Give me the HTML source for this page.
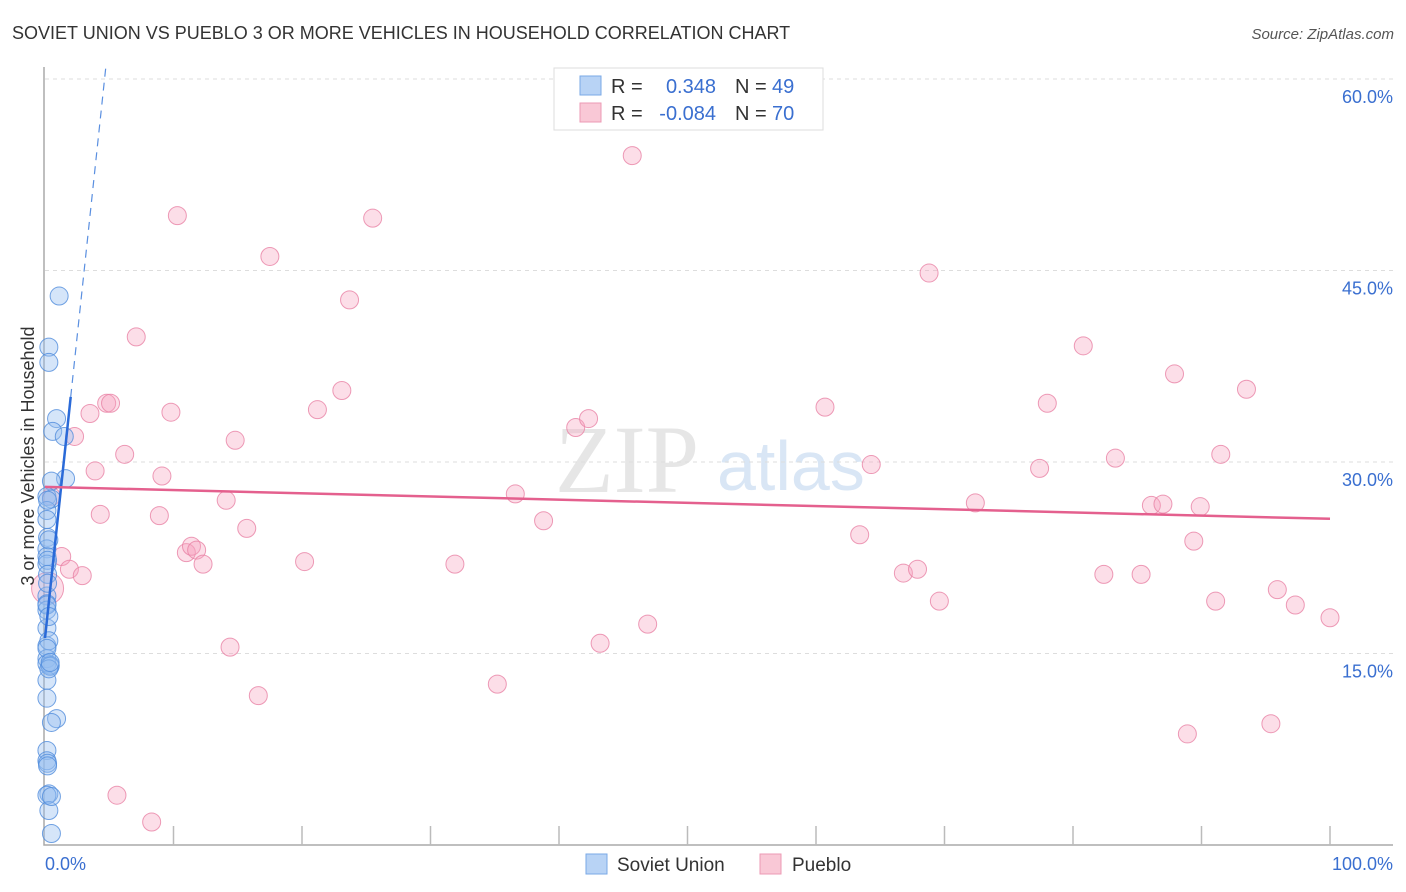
<!DOCTYPE html>
<html><head><meta charset="utf-8"><style>
body{margin:0;background:#fff;font-family:"Liberation Sans",sans-serif}
svg{display:block}
</style></head><body>
<svg id="chart" width="1406" height="892" xmlns="http://www.w3.org/2000/svg">
<text x="12" y="39" font-size="18" fill="#333">SOVIET UNION VS PUEBLO 3 OR MORE VEHICLES IN HOUSEHOLD CORRELATION CHART</text>
<text x="1394" y="39" font-size="15" fill="#555" text-anchor="end" font-style="italic">Source: ZipAtlas.com</text>
<text x="555" y="492" font-size="96" fill="#e6e6e6" font-family="Liberation Serif">ZIP</text>
<text x="717" y="490" font-size="70" fill="#d9e6f5">atlas</text>
<g id="grid"></g>
<g id="pts"></g>
<g id="lines"></g>
<text transform="translate(34,456) rotate(-90)" font-size="18" fill="#333" text-anchor="middle">3 or more Vehicles in Household</text>
<g>
<rect x="554" y="68" width="269" height="62" fill="#fff" stroke="#ddd"/>
<rect x="580" y="76" width="21" height="19" fill="#b8d3f5" stroke="#7aa8e6"/>
<rect x="580" y="103" width="21" height="19" fill="#f9c8d6" stroke="#ec9ab4"/>
<text x="611" y="93" font-size="20" fill="#333">R =</text>
<text x="716" y="93" font-size="20" fill="#3a6fd0" text-anchor="end">0.348</text>
<text x="735" y="93" font-size="20" fill="#333">N =</text>
<text x="772" y="93" font-size="20" fill="#3a6fd0">49</text>
<text x="611" y="120" font-size="20" fill="#333">R =</text>
<text x="716" y="120" font-size="20" fill="#3a6fd0" text-anchor="end">-0.084</text>
<text x="735" y="120" font-size="20" fill="#333">N =</text>
<text x="772" y="120" font-size="20" fill="#3a6fd0">70</text>
</g>
<g>
<rect x="586" y="854" width="21" height="20" fill="#b8d3f5" stroke="#7aa8e6"/>
<text x="617" y="871" font-size="19" fill="#333">Soviet Union</text>
<rect x="760" y="854" width="21" height="20" fill="#f9c8d6" stroke="#ec9ab4"/>
<text x="792" y="871" font-size="19" fill="#333">Pueblo</text>
</g>
</svg>
<script>
const yTicks=[15,30,45,60];
const yTickLabels=["15.0%","30.0%","45.0%","60.0%"];
const xTickCount=10;
const blueX=[1.1,0.3,0.3,0.9,0.6,1.5,1.6,0.5,0.15,0.5,0.15,0.2,0.15,0.15,0.15,0.15,0.15,0.15,0.15,0.15,0.15,0.15,0.4,0.15,0.9,0.5,0.15,0.15,0.2,0.3,0.15,0.3,0.5,0.2,0.4,0.3,0.15,0.2,0.3,0.15,0.2,0.3,0.15,0.2,0.5,0.3,0.2,0.15,0.4];
const blueY=[43.0,39.0,37.8,33.4,32.4,32.0,28.7,28.5,27.3,27.1,26.2,24.1,23.2,22.6,22.0,19.5,18.9,18.4,17.0,15.6,14.6,14.2,14.1,12.9,9.9,9.6,7.4,6.6,6.4,4.0,3.9,2.7,0.9,27.0,14.0,16.0,18.8,22.3,23.9,25.5,21.2,13.8,15.4,6.2,3.8,17.9,20.5,11.5,14.3];
const pinkX=[0.2,0.5,1.3,1.9,2.9,2.3,3.5,3.9,4.3,4.8,5.1,6.2,5.6,7.1,8.3,8.9,9.1,9.8,10.3,11.0,11.4,11.8,12.3,14.1,14.4,14.8,15.7,16.6,17.5,20.2,21.2,23.1,23.7,25.5,31.9,35.2,36.6,38.8,41.3,42.3,43.2,45.7,46.9,60.7,63.4,64.3,66.8,67.9,68.8,69.6,72.4,77.4,78.0,80.8,82.4,83.3,85.3,86.1,87.0,87.9,88.9,89.4,89.9,91.1,91.5,93.5,95.4,95.9,97.3,100];
const pinkY=[20.1,27.3,22.6,21.6,21.1,32.0,33.8,29.3,25.9,34.6,34.6,30.6,3.9,39.8,1.8,25.8,28.9,33.9,49.3,22.9,23.4,23.1,22.0,27.0,15.5,31.7,24.8,11.7,46.1,22.2,34.1,35.6,42.7,49.1,22.0,12.6,27.5,25.4,32.7,33.4,15.8,54.0,17.3,34.3,24.3,29.8,21.3,21.6,44.8,19.1,26.8,29.5,34.6,39.1,21.2,30.3,21.2,26.6,26.7,36.9,8.7,23.8,26.5,19.1,30.6,35.7,9.5,20.0,18.8,17.8];
const blueFit=[16.2,9.45]; // intercept, slope
const pinkFit=[28.05,-0.025];
const NS="http://www.w3.org/2000/svg";
const X0=45,X1=1330,Y0=845,Y60=79;
const xs=v=>X0+(X1-X0)*v/100;
const ys=v=>Y0-(Y0-Y60)*v/60;
function mk(tag,attrs,parent){const e=document.createElementNS(NS,tag);for(const k in attrs)e.setAttribute(k,attrs[k]);parent.appendChild(e);return e;}
const grid=document.getElementById('grid');
yTicks.forEach((t,i)=>{
 const l=mk('line',{x1:X0,x2:1393,y1:ys(t),y2:ys(t),stroke:'#ddd','stroke-dasharray':'4,4'},grid);
 
 
 const tx=mk('text',{x:1393,y:ys(t)+24,'font-size':18,fill:'#3a6fd0','text-anchor':'end'},grid);
 tx.textContent=yTickLabels[i];
 
 
});
const ax=mk('path',{d:`M${X0-1},67 V${Y0} H1393`,stroke:'#aaa',fill:'none','stroke-width':1.5},grid);


for(let i=1;i<=xTickCount;i++){
 const t=mk('line',{x1:xs(i*10),x2:xs(i*10),y1:826,y2:Y0,stroke:'#bbb','stroke-width':1.5},grid);
 
 
}
const xl0=mk('text',{x:45,y:870,'font-size':18,fill:'#3a6fd0'},grid);xl0.textContent='0.0%';


const xl1=mk('text',{x:1393,y:870,'font-size':18,fill:'#3a6fd0','text-anchor':'end'},grid);xl1.textContent='100.0%';


const pts=document.getElementById('pts');
pinkX.forEach((x,i)=>{
 const c=mk('circle',{cx:xs(x),cy:ys(pinkY[i]),r:i==0?16:9,fill:'rgba(245,160,188,0.35)',stroke:'rgba(232,130,165,0.8)','stroke-width':1},pts);
 
 
});
blueX.forEach((x,i)=>{
 const c=mk('circle',{cx:xs(x),cy:ys(blueY[i]),r:9,fill:'rgba(150,190,240,0.4)',stroke:'rgba(80,140,220,0.8)','stroke-width':1},pts);
 
 
});
const lines=document.getElementById('lines');
const bx2=2.0, bx3=(60-blueFit[0])/blueFit[1];
const b1=mk('line',{x1:xs(0),y1:ys(blueFit[0]),x2:xs(bx2),y2:ys(blueFit[0]+blueFit[1]*bx2),stroke:'#2a6ad8','stroke-width':2.5},lines);


const b2=mk('line',{x1:xs(bx2),y1:ys(blueFit[0]+blueFit[1]*bx2),x2:xs(bx3*1.02),y2:ys(blueFit[0]+blueFit[1]*bx3*1.02),stroke:'#5a8fe0','stroke-width':1.2,'stroke-dasharray':'8,6'},lines);


const p1=mk('line',{x1:xs(0),y1:ys(pinkFit[0]),x2:xs(100),y2:ys(pinkFit[0]+pinkFit[1]*100),stroke:'#e4608e','stroke-width':2.5},lines);


</script>
</body></html>
